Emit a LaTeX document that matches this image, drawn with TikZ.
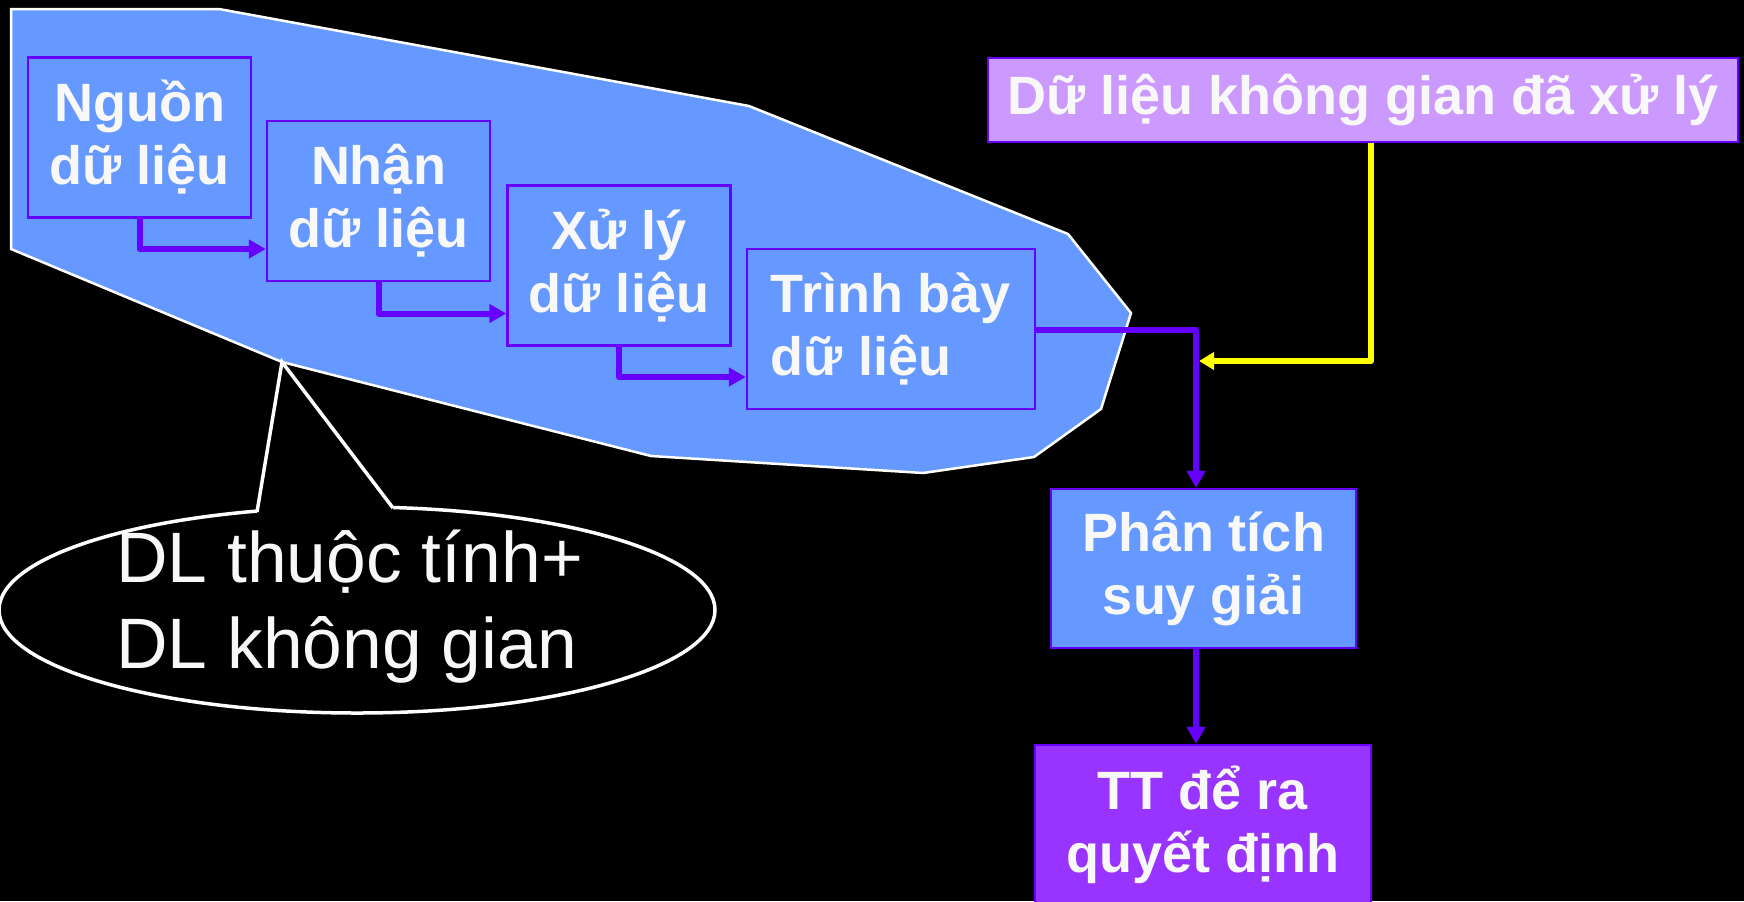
\documentclass[tikz,border=0pt]{standalone}
\usepackage{fontspec}
\setmainfont{Liberation Sans}
\usetikzlibrary{arrows.meta,calc}
\definecolor{bgblue}{HTML}{6699FF}
\definecolor{edgepurple}{HTML}{6600FF}
\definecolor{lilac}{HTML}{CC99FF}
\definecolor{violetbox}{HTML}{9933FF}
\definecolor{txt}{HTML}{F8F8F8}
\definecolor{yel}{HTML}{FFFF00}
\tikzset{
  box/.style={draw=edgepurple, line width=1.2pt, fill=bgblue, text=txt,
    font=\bfseries\fontsize{27}{31.5}\selectfont, align=center, inner sep=0pt},
  smallbox/.style={box, minimum width=111.5pt, minimum height=80pt},
  arr/.style={draw=edgepurple, line width=3pt, line join=round,
    -{Triangle[length=8.5pt,width=9pt]}},
  yarr/.style={draw=yel, line width=3pt, line join=round,
    -{Triangle[length=7.5pt,width=8.5pt]}},
  calltext/.style={text=txt, font=\fontsize{35.7}{43}\selectfont, inner sep=0pt, anchor=base west}
}
\begin{document}
\begin{tikzpicture}[x=0.5pt,y=-0.5pt]
\useasboundingbox[fill=black] (0,0) rectangle (1744,901);
% big blue region
\draw[white, line width=1.25pt, fill=bgblue] (11,9) -- (219,9) -- (749,106) -- (1068,234)
  -- (1131,313) -- (1101,409) -- (1034,457) -- (923,473) -- (651,456) -- (282,362)
  -- (11,249) -- cycle;
% callout
\coordinate (apex) at (282,362);
\coordinate (cb1) at (257,512);
\coordinate (cb2) at (393,508);
\draw[white, line width=1.75pt, fill=black] (357,610) ellipse [x radius=179pt, y radius=51.5pt];
\fill[black] (apex) -- (cb1) -- ($(cb1)+(0,8)$) -- ($(cb2)+(0,8)$) -- (cb2) -- cycle;
\draw[white, line width=1.75pt] (cb1) -- (apex) -- (cb2);
\node[calltext] (ct1) at (116,582) {DL thuộc tính+};
\node[calltext] (ct2) at (116,668) {DL không gian};
% boxes
\node[smallbox] (n1) at (139.5,137.5) {Nguồn\\dữ liệu};
\node[smallbox] (n2) at (378.5,201) {Nhận\\dữ liệu};
\node[smallbox] (n3) at (619,265.5) {Xử lý\\dữ liệu};
\node[box, minimum width=144pt, minimum height=80pt, align=left] (n4) at (891,329) {Trình bày\\dữ liệu};
\node[box, fill=lilac, minimum width=375pt, minimum height=42pt] (kg) at (1363,100) {Dữ liệu không gian đã xử lý};
\node[box, minimum width=152.5pt, minimum height=79.5pt] (n5) at (1203.5,568.5) {Phân tích\\suy giải};
\node[box, fill=violetbox, minimum width=168pt, minimum height=79.5pt] (n6) at (1203,824.5) {TT để ra\\quyết định};
% connectors
\coordinate (j) at (1196,330);
\coordinate (yx) at (1371,0);
\coordinate (ym) at (1199,361);
\draw[arr] (n1.south) |- ([yshift=-24pt]n2.west);
\draw[arr] (n2.south) |- ([yshift=-24pt]n3.west);
\draw[arr] (n3.south) |- ([yshift=-24pt]n4.west);
\draw[arr] (n4.east |- j) -| (j |- n5.north);
\draw[yarr] (kg.south -| yx) |- (ym);
\draw[arr] (n5.south -| j) -- (n6.north -| j);
\end{tikzpicture}
\end{document}
